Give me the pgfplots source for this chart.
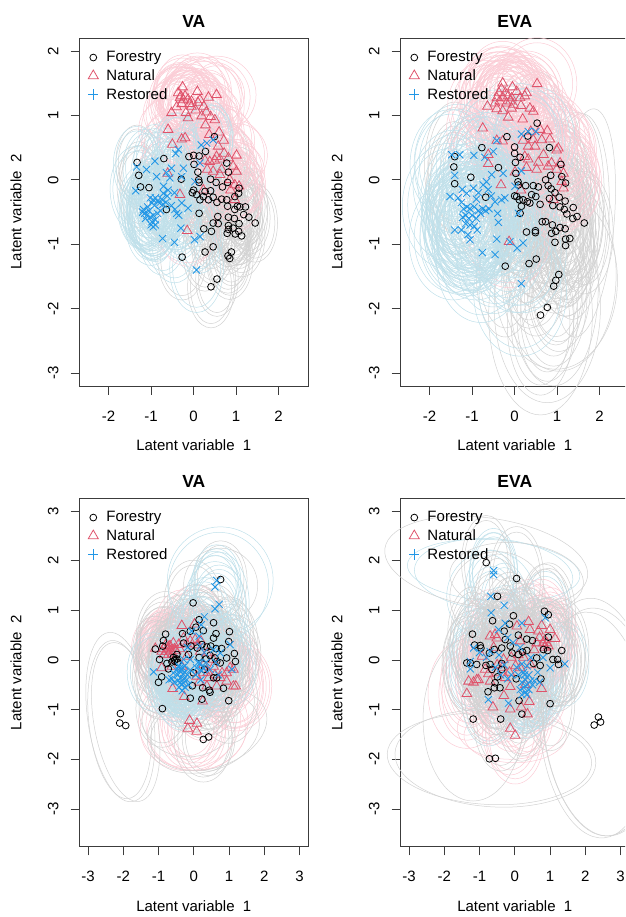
\documentclass[border=0pt]{standalone}
\usepackage{fontspec}
\setmainfont{Liberation Sans}
\usepackage{pgfplots}
\usepackage{pgfplotstable}
\pgfplotsset{compat=1.18}
\definecolor{cF}{HTML}{000000}
\definecolor{cN}{HTML}{DF536B}
\definecolor{cR}{HTML}{2297E6}
\definecolor{eF}{HTML}{D2D2D2}
\definecolor{eN}{HTML}{FBCDD6}
\definecolor{eR}{HTML}{C0E0EA}
\definecolor{boxc}{HTML}{3C3C3C}
% ---- panel 1 (VA, top)
\pgfplotstableread[row sep=\\]{x y s\\
-1.33 0.27 1\\-1.29 0.07 .9\\-1.25 -0.11 1.1\\-1.05 -0.12 .85\\-0.70 0.33 1\\-0.29 0.01 1.1\\-0.64 -0.46 .9\\-0.27 -1.20 1.15\\0.13 -0.52 1\\0.49 0.67 .9\\-0.11 0.36 1\\0 0.38 1.1\\0.13 0.37 .85\\0.28 0.44 1\\0.01 0.24 .95\\0.10 0.12 1.1\\0.12 0 .9\\0.13 -0.04 1\\0.40 0.01 1.05\\0.53 -0.04 .9\\0.68 -0.11 1\\0.78 0.26 1.1\\0.82 0.12 .85\\0.80 -0.04 1\\1.07 -0.13 1.1\\1.06 -0.21 .9\\0.97 -0.26 1\\0 -0.16 1.05\\-0.03 -0.20 .9\\0.07 -0.23 1\\0.15 -0.31 1.1\\0.27 -0.18 .85\\0.40 -0.17 1\\0.23 -0.26 .95\\0.35 -0.31 1.1\\0.46 -0.27 .9\\0.55 -0.35 1\\0.66 -0.30 1.1\\0.78 -0.31 .85\\0.80 -0.41 1\\0.97 -0.46 1.1\\1.03 -0.41 .9\\1.09 -0.42 1\\1.22 -0.42 1.05\\1.18 -0.54 .9\\1.30 -0.58 1\\1.45 -0.67 1.05\\0.57 -0.57 .85\\0.82 -0.58 1\\0.96 -0.60 1.1\\0.46 -0.67 .9\\0.58 -0.68 1\\1.07 -0.68 1.1\\0.24 -0.76 .85\\0.42 -0.80 1\\0.82 -0.71 1.1\\0.93 -0.75 .9\\0.82 -0.77 1\\0.79 -0.83 1.1\\0.98 -0.84 .85\\1.06 -0.80 1\\1.13 -0.87 1.1\\0.46 -1.04 1\\0.27 -1.12 1.05\\0.89 -1.12 .9\\0.81 -1.18 1\\0.85 -1.22 1.1\\0.55 -1.54 1\\0.41 -1.66 1.1\\}\PaF
\pgfplotstableread[row sep=\\]{x y s\\
-0.26 1.44 1\\-0.36 1.35 .9\\0.09 1.37 1.1\\0.54 1.32 1\\0.35 1.28 .85\\-0.32 1.27 1.1\\-0.24 1.24 .9\\-0.13 1.25 1\\-0.05 1.22 1.15\\0.15 1.24 .85\\-0.40 1.13 1\\-0.05 1.14 1.1\\0.24 1.14 .9\\-0.52 1.04 1\\-0.18 1.04 1.1\\-0.13 0.96 .85\\0.19 0.99 1\\0.40 0.98 1.1\\0.50 0.93 .9\\0.28 0.85 1\\-0.60 0.78 1.05\\0.60 0.74 .9\\0.37 0.70 1\\0.71 0.61 1.1\\-0.28 0.63 .85\\-0.20 0.65 1\\-0.50 0.55 1.1\\0.58 0.52 .9\\0.72 0.41 1\\1.01 0.38 1.1\\0.54 0.36 .85\\0.82 0.34 1\\0.27 0.30 1.1\\0.38 0.28 .9\\0.50 0.30 1\\0.62 0.32 1.1\\0.93 0.21 .85\\1.01 0.13 1\\0.32 0.16 1.1\\0.46 0.13 .9\\0.66 0.16 1\\-0.61 0.10 1.1\\0.62 0.08 .85\\0.85 0 1\\0.97 -0.08 1.1\\1.07 -0.10 .9\\0.87 -0.16 1\\0.23 -0.16 1.1\\-0.32 -0.23 .85\\0.97 -0.31 1\\-0.15 -0.79 1.1\\-0.30 1.30 1\\-0.20 1.30 .9\\-0.10 1.18 1.1\\0.05 1.08 1\\-0.28 1.18 .9\\0.10 1.20 1.05\\0.30 1.05 .95\\}\PaN
\pgfplotstableread[row sep=\\]{x y rx ry rot\\
0.54 1.32 .93 .60 0\\0.35 1.28 .98 .62 0\\0.15 1.24 .95 .66 0\\0.24 1.14 .95 .70 0\\0.09 1.37 .80 .60 0\\}\PaNb
\pgfplotstableread[row sep=\\]{x y s\\
-1.34 0.20 1\\-1.36 -0.17 1.1\\-0.91 0.29 .9\\-1.11 0.16 1\\-0.87 0.05 1.1\\-0.36 0.47 .9\\-0.42 0.41 1\\-0.64 0.11 1.1\\-0.52 0.18 .85\\-0.24 0.18 1\\-0.28 0.05 1.1\\0.03 -0.03 .9\\0.18 0.54 1\\0.31 0.57 1.1\\0.46 0.62 .85\\0.15 0.26 1\\-0.71 -0.10 1.1\\-0.56 0.03 .9\\-0.60 -0.16 1\\-0.71 -0.21 1.1\\-0.95 -0.31 .85\\-0.90 -0.28 1\\-0.98 -0.36 1.1\\-0.85 -0.33 .9\\-0.80 -0.36 1\\-0.92 -0.40 1.1\\-0.75 -0.30 .85\\-0.72 -0.38 1\\-0.65 -0.35 1.1\\-1.02 -0.28 .9\\-1.15 -0.52 1\\-1.18 -0.46 1.1\\-1.10 -0.55 .85\\-1.20 -0.50 1\\-1.05 -0.48 1.1\\-1.13 -0.60 .9\\-1.02 -0.58 1\\-0.95 -0.55 1.1\\-1.08 -0.42 .85\\-0.98 -0.65 1\\-0.90 -0.62 1.1\\-0.95 -0.73 .9\\-0.90 -0.70 1\\-1.00 -0.70 1.1\\-0.85 -0.52 .85\\-0.78 -0.48 1\\-0.13 -0.44 1.1\\-0.28 -0.36 .9\\-0.40 -0.52 1\\-0.44 -0.46 1.1\\-0.30 -0.75 .85\\-0.73 -0.91 1\\-0.45 -0.97 1.1\\0.02 -0.93 .9\\0.15 -0.88 1\\0.07 -1.40 1.15\\-0.35 -0.55 1\\-0.52 -0.40 .9\\-0.62 -0.25 1.1\\-0.45 -0.20 1\\}\PaR
% ---- panel 2 (EVA, top)
\pgfplotstableread[row sep=\\]{x y s\\
0.53 0.88 1\\0.31 0.68 .9\\-0.18 0.67 1.1\\-0.77 0.50 1\\0 0.51 .85\\0 0.41 1.1\\0.13 0.35 .9\\0.02 0.27 1\\-1.41 0.36 1.05\\-1.43 0.20 .9\\-1.41 -0.06 1\\-1.03 0.04 1.1\\-0.38 0.19 .85\\-0.68 -0.27 1\\0.82 0.50 1.1\\1.09 0.24 .9\\1.11 0.05 1\\0.85 0.07 1.1\\0.73 0 .85\\1.20 -0.05 1\\0.03 0.10 1.1\\0.08 -0.03 .9\\0.09 -0.08 1\\0.26 -0.09 1.1\\0.44 -0.09 .85\\0.56 -0.11 1\\0.79 -0.09 1.1\\0.86 -0.14 .9\\0.95 -0.20 1\\0 -0.25 1.1\\0.05 -0.26 .85\\0.11 -0.31 1\\0.20 -0.31 1.1\\0.16 -0.41 .9\\0.13 -0.52 1\\0.30 -0.34 1.1\\0.36 -0.36 .85\\0.40 -0.23 1\\0.50 -0.26 1.1\\0.60 -0.38 .9\\0.82 -0.29 1\\0.90 -0.40 1.1\\1.05 -0.27 .85\\1.19 -0.33 1\\1.07 -0.42 1.1\\1.17 -0.46 .9\\1.23 -0.53 1\\1.38 -0.43 1.05\\1.37 -0.60 .9\\1.47 -0.57 1\\1.64 -0.67 1\\0.65 -0.65 .85\\0.73 -0.65 1\\0.89 -0.70 1.1\\1.07 -0.74 .9\\1.19 -0.76 1\\0.97 -0.80 1.1\\0.87 -0.83 .85\\0.28 -0.81 1\\0.49 -0.79 1.1\\0.49 -0.82 .9\\0.95 -0.97 1\\1.20 -0.92 1.1\\1.30 -0.91 .85\\1.20 -1.02 1\\0.51 -1.23 1.1\\0.34 -1.30 .9\\-0.22 -1.34 1\\1.04 -1.47 1.1\\0.97 -1.56 .9\\0.92 -1.65 1.15\\0.77 -1.98 1.05\\0.61 -2.10 1.15\\}\PbF
\pgfplotstableread[row sep=\\]{x y rx ry rot\\
0.61 -2.10 1.22 1.55 0\\0.77 -1.98 1.25 1.48 0\\0.92 -1.65 1.05 1.55 0\\1.04 -1.47 1.35 1.50 0\\0.97 -1.56 1.45 1.38 0\\1.64 -0.67 .70 1.78 -5\\1.47 -0.57 .75 1.60 -3\\1.38 -0.43 .72 1.48 -3\\}\PbFb
\pgfplotstableread[row sep=\\]{x y s\\
-0.28 1.50 1\\0.53 1.49 1.1\\-0.05 1.44 .9\\-0.31 1.41 1\\-0.37 1.35 1.1\\0.05 1.37 .85\\0.28 1.35 1\\-0.42 1.27 1.1\\-0.27 1.27 .9\\-0.07 1.27 1\\0.13 1.27 1.1\\0.24 1.30 .85\\-0.46 1.19 1\\-0.35 1.22 1.1\\-0.19 1.19 .9\\-0.03 1.17 1\\-0.64 1.14 1.1\\-0.42 1.10 .85\\-0.28 1.07 1\\-0.07 1.11 1.1\\0.36 1.11 .9\\0.44 1.06 1\\-0.15 0.97 1.1\\0.19 0.94 .85\\-0.75 0.80 1\\0.60 0.78 1.1\\0.77 0.76 .9\\0.38 0.75 1\\0.83 0.63 1.1\\-0.42 0.61 .85\\-0.28 0.60 1\\0.20 0.61 1.1\\0.44 0.62 .9\\0.64 0.62 1\\0.32 0.52 1.1\\0.48 0.52 .85\\1.03 0.49 1\\0.99 0.46 1.1\\0.68 0.39 .9\\0.24 0.36 1\\-0.62 0.39 1.1\\0.32 0.32 .85\\0.56 0.27 1\\-0.62 0.25 1.1\\0.87 0.26 .9\\1.07 0.26 1\\0.28 0.19 1.1\\0.52 0.16 .85\\0.79 0.21 1\\0.99 0.16 1.1\\0.01 0.12 .9\\1.15 0.10 1\\1.11 -0.03 1.1\\-0.32 -0.08 .85\\1.15 -0.13 1\\0.15 -0.16 1.1\\0.91 -0.31 .9\\-0.13 -0.96 1.1\\-0.15 1.30 1\\-0.22 1.35 .9\\0.15 1.15 1.05\\-0.10 1.22 .95\\}\PbN
\pgfplotstableread[row sep=\\]{x y s\\
-1.48 0.39 1\\-1.29 0.39 1.1\\-0.96 0.38 .9\\-1.41 0.07 1\\-1.52 -0.26 1.15\\-1.33 -0.28 .85\\-1.23 -0.15 1\\-0.42 0.61 1.1\\-0.50 0.44 .9\\-0.70 0.35 1\\0.16 0.71 1.1\\0.32 0.75 .85\\0.50 0.75 1\\-0.54 0.08 1.1\\-0.27 0.10 .9\\0.16 0.14 1\\0.01 -0.10 1.1\\-0.66 -0.03 .85\\-0.74 -0.08 1\\-0.97 -0.13 1.1\\-1.13 -0.21 .9\\-0.31 -0.31 1\\-0.46 -0.34 1.1\\-0.23 -0.28 .85\\0.09 -0.52 1\\-0.40 -0.52 1.1\\-0.38 -0.66 .9\\-1.41 -0.78 1.1\\-1.25 -0.78 1\\-1.05 -0.93 .85\\-0.42 -0.92 1\\-0.76 -1.13 1.1\\-0.46 -1.16 .9\\0.06 -1.06 1\\0.20 -0.98 1.1\\-0.11 -0.96 .85\\0.16 -1.61 1.15\\-1.20 -0.45 1\\-1.12 -0.42 1.1\\-1.05 -0.45 .9\\-0.95 -0.42 1\\-0.85 -0.48 1.1\\-0.75 -0.45 .85\\-0.68 -0.48 1\\-0.60 -0.45 1.1\\-1.22 -0.58 .9\\-1.15 -0.55 1\\-1.08 -0.60 1.1\\-1.00 -0.55 .85\\-0.90 -0.60 1\\-1.15 -0.68 1.1\\-1.05 -0.70 .9\\-0.95 -0.72 1\\-0.88 -0.78 1.1\\-1.10 -0.85 .85\\-0.80 -0.52 1\\-0.55 -0.25 1.1\\-0.62 -0.15 .9\\-0.85 -0.20 1\\-0.90 -0.30 1.1\\-1.25 -0.35 .85\\}\PbR
% ---- panel 3 (VA, bottom)
\pgfplotstableread[row sep=\\]{x y s\\
0.76 1.62 1\\-0.02 1.15 1.1\\0.15 0.81 .9\\0.56 0.75 1\\0.06 0.66 1.1\\-0.10 0.58 .85\\0.27 0.59 1\\0.63 0.53 1.1\\1.01 0.57 .9\\-0.32 0.53 1\\-0.80 0.52 1.1\\0.56 0.44 .85\\-0.86 0.39 1\\0.99 0.37 1.1\\-0.29 0.34 .9\\-0.88 0.28 1\\-0.08 0.28 1.1\\0.10 0.24 .85\\0.23 0.31 1\\0.37 0.26 1.1\\0.48 0.28 .9\\0.63 0.23 1\\0.79 0.23 1.1\\-1.09 0.22 .85\\1.15 0.13 1\\-0.48 0.11 1.1\\-0.15 0.11 .9\\0.46 0.09 1\\0.60 0.04 1.1\\0.93 0.04 .85\\-0.97 0.01 1\\-0.76 -0.07 1.1\\-0.62 -0.04 .9\\-0.53 0.01 1\\-0.48 0.02 1.1\\-0.72 -0.18 .85\\0.65 -0.03 1\\0.75 -0.06 1.1\\1.18 -0.03 .9\\0.30 -0.19 1\\-0.01 -0.26 1.1\\0.56 -0.36 .85\\0.65 -0.36 1\\-0.91 -0.34 1.1\\-1.00 -0.45 .9\\-0.04 -0.52 1\\0.25 -0.56 1.1\\0.84 -0.57 .85\\0.44 -0.61 1\\0.46 -0.65 1.1\\-0.10 -0.77 .9\\0.23 -0.79 1\\0.99 -0.82 1.1\\-0.89 -0.98 1\\0.42 -1.55 1\\0.27 -1.60 1.1\\-0.55 -0.02 1\\-0.58 0.05 .9\\-0.45 -0.05 1.1\\0.15 0.05 1\\0.35 0.02 .9\\}\PcF
\pgfplotstableread[row sep=\\]{x y s\\
-2.08 -1.08 1\\-2.10 -1.27 1\\-1.93 -1.32 1\\}\PcFo
\pgfplotstableread[row sep=\\]{x y s\\
-0.34 0.69 1\\0.02 0.72 1.1\\-1.09 0.23 .9\\-0.86 0.22 1\\-0.76 0.21 1.1\\-0.67 0.28 .85\\-0.58 0.34 1\\-0.43 0.31 1.1\\-0.29 0.44 .9\\-0.10 0.38 1\\0.04 0.41 1.1\\-0.72 0.11 .85\\-0.91 0.17 1\\0.18 0.17 1.1\\0.37 0.14 .9\\-0.20 0.07 1\\0.56 -0.13 1.1\\1.03 -0.16 .85\\0.93 -0.26 1\\1.12 -0.19 1.1\\-0.62 -0.13 .9\\-0.91 -0.16 1\\0.75 -0.36 1.1\\0.42 -0.36 .85\\0.93 -0.43 1\\1.12 -0.53 1.15\\1.19 -0.53 1.15\\0.65 -0.53 1\\0.08 -0.33 1.1\\-0.60 -0.58 .9\\-0.27 -0.74 1\\0.25 -0.83 1.1\\-0.12 -1.22 1.1\\0.09 -1.28 1.1\\-0.17 -1.38 1.1\\0.08 -1.44 1.1\\-0.34 -0.13 1\\0.27 -0.26 .9\\0.55 0.01 1\\0.80 -0.26 1.1\\0.37 -0.53 .85\\-0.55 0.22 1\\-0.70 0.28 1.1\\-0.50 0.18 .9\\-0.80 0.30 1\\-0.78 0.17 1.05\\-0.65 0.18 .95\\-0.60 0.12 1\\-0.85 0.10 1.05\\-0.72 0.25 .9\\-0.40 0.22 1\\-0.20 0.32 1.1\\0.10 0.30 .95\\0.20 0.38 1\\0.28 -0.10 1.05\\0.40 -0.25 .9\\0.60 -0.30 1\\0.15 -0.45 1.05\\}\PcN
\pgfplotstableread[row sep=\\]{x y s\\
0.65 1.60 1\\0.60 1.47 1\\0.72 1.12 1.1\\0.60 1.03 1\\0.30 0.87 1.1\\0.21 0.71 .9\\-0.06 0.58 1\\0.15 0.48 1.1\\1.03 0.31 .85\\0.75 0.14 1\\0.56 0.21 1.1\\0.18 0.28 .9\\-1.14 -0.24 1.1\\1.08 -0.19 1\\0.46 -0.19 1.1\\-0.39 -0.16 .85\\-0.58 -0.26 1\\0.18 -0.06 1.1\\0.08 -0.16 .9\\0.27 -0.16 1\\-0.10 0.01 1.1\\-0.29 0.01 .85\\-0.35 -0.20 1\\-0.42 -0.12 1.1\\-0.30 -0.28 .9\\-0.45 -0.30 1\\-0.38 -0.36 1.1\\-0.25 -0.12 .85\\-0.50 -0.20 1\\-0.55 -0.45 1.1\\-0.35 -0.50 .9\\-0.30 -0.46 1\\-0.42 -0.55 1.1\\-0.25 -0.55 .85\\-0.20 -0.40 1\\-0.15 -0.50 1.1\\-0.62 -0.38 .9\\-0.70 -0.40 1\\-0.33 -0.62 1.1\\-0.10 -0.20 .85\\0.05 -0.30 1\\0.20 -0.40 1.1\\0.62 -0.05 .9\\0.70 -0.30 1\\0.30 0.15 1.1\\-0.18 0.25 .85\\-0.40 -0.22 1\\-0.32 -0.15 .95\\-0.25 -0.25 1.05\\-0.45 -0.42 .9\\-0.28 -0.38 1\\-0.18 -0.30 1.1\\-0.38 -0.45 .95\\0.12 -0.05 1\\0.22 -0.22 1.05\\0.35 -0.05 .9\\}\PcR
\pgfplotstableread[row sep=\\]{x y rx ry rot\\
-2.08 -1.15 .93 1.72 8\\-2.10 -1.20 .88 1.60 6\\-1.93 -1.25 .90 1.62 10\\0.42 -1.40 1.70 .78 18\\0.27 -1.45 1.62 .80 16\\-0.12 -1.15 1.35 .80 5\\0.76 1.50 1.05 .75 10\\}\PcFb
\pgfplotstableread[row sep=\\]{x y rx ry rot\\
-0.12 -1.22 1.45 .95 10\\0.09 -1.28 1.45 .95 10\\-0.17 -1.38 1.35 .85 5\\0.08 -1.44 1.40 .78 5\\1.12 -0.53 1.03 .85 0\\1.19 -0.53 1.02 .90 0\\}\PcNb
\pgfplotstableread[row sep=\\]{x y rx ry rot\\
0.75 1.60 1.50 1.08 -5\\0.70 1.47 1.42 1.10 -5\\0.72 1.12 .85 1.05 0\\0.60 1.03 .90 .95 0\\0.62 1.40 .75 .70 0\\}\PcRb
% ---- panel 4 (EVA, bottom)
\pgfplotstableread[row sep=\\]{x y s\\
-0.81 1.96 1\\0.05 1.64 1.1\\-0.49 1.28 .9\\0.84 0.98 1\\0.95 0.91 1.1\\-0.04 0.89 .85\\-0.63 0.79 1\\-0.15 0.72 1.1\\-0.30 0.58 .9\\-1.20 0.52 1\\0.10 0.50 1.1\\0.95 0.46 .85\\-0.27 0.41 1\\0.34 0.42 1.1\\0.50 0.39 .9\\-1.14 0.30 1\\-0.98 0.29 1.1\\-0.96 0.24 .85\\-0.37 0.24 1\\-0.13 0.28 1.1\\-0.58 0.21 .9\\-0.72 0.14 1\\1.33 0.19 1.1\\-0.08 0.14 .85\\0.10 0.11 1\\0.22 0.16 1.1\\0.34 0.19 .9\\0.81 0.21 1\\0.93 0.19 1.1\\0.62 0.04 .85\\1.08 0.01 1\\1.21 0.01 1.1\\1.24 -0.09 .9\\-1.36 -0.06 1\\-1.26 -0.06 1.1\\-1.08 -0.09 .85\\-0.82 -0.11 1\\-0.70 -0.09 1.1\\-0.65 -0.19 .9\\-0.37 -0.07 1\\-0.37 -0.19 1.1\\0.53 -0.07 .85\\0.72 -0.11 1\\-0.49 -0.34 1.1\\0.04 -0.38 .9\\0.74 -0.38 1\\-0.56 -0.46 1.1\\-0.58 -0.56 .85\\-0.42 -0.56 1\\-0.76 -0.64 1.1\\0.12 -0.82 .9\\1.00 -0.88 1\\-0.40 -1.19 1.1\\0.20 -1.09 1\\}\PdF
\pgfplotstableread[row sep=\\]{x y s\\
-1.18 -1.19 1\\2.37 -1.15 1\\2.43 -1.25 1\\2.25 -1.31 1\\-0.72 -1.99 1\\-0.55 -1.98 1\\}\PdFo
\pgfplotstableread[row sep=\\]{x y s\\
0.39 0.77 1\\0.76 0.69 1.1\\0.06 0.68 .9\\1.00 0.61 1\\0.43 0.61 1.1\\0.67 0.58 .85\\-0.56 0.51 1\\-0.70 0.48 1.1\\1.14 0.43 .9\\0.91 0.34 1\\-0.51 0.44 1.1\\0.15 0.38 .85\\0.62 0.34 1\\0.81 0.34 1.1\\-0.93 0.07 .9\\-0.32 0.01 1\\-0.84 -0.19 1.1\\-1.08 -0.40 .85\\-1.31 -0.43 1.1\\-1.17 -0.45 1\\-1.03 -0.40 .9\\-0.70 -0.43 1\\-0.27 -0.36 1.1\\-1.36 -0.68 1.1\\-0.13 -0.54 .85\\0.76 -0.58 1\\-0.31 -0.72 1.1\\-0.62 -0.95 .9\\-0.13 -0.99 1\\0.18 -0.95 1.1\\0.41 -0.84 .85\\0.36 -1.09 1\\-0.13 -1.38 1.1\\0.01 -1.52 1.15\\-0.51 -0.26 1\\0.15 -0.16 .9\\0.70 0.45 1\\0.85 0.40 1.1\\0.95 0.28 .85\\0.55 0.20 1\\0.10 0.10 1.1\\-0.10 0.05 .9\\0.30 -0.50 1\\-0.50 -0.10 1.1\\-0.35 -0.15 .95\\-0.15 -0.25 1.05\\0.02 -0.12 .9\\0.25 0.05 1\\0.45 -0.10 1.05\\-0.75 -0.28 .95\\-0.60 0.25 1\\0.85 0.25 .9\\}\PdN
\pgfplotstableread[row sep=\\]{x y s\\
-0.60 1.80 1\\-0.60 1.72 1\\-0.68 1.28 1.1\\-0.30 1.10 1\\-0.67 0.95 1.1\\-0.27 0.74 .9\\-0.46 0.61 1\\0.86 0.85 1.1\\0.20 0.74 .85\\-1.17 0.24 1\\-0.70 0.17 1.1\\-1.26 -0.03 .9\\-1.26 -0.18 1\\-0.75 -0.80 1.1\\-0.18 -0.87 .85\\1.42 -0.08 1\\1.00 -0.16 1.1\\0.34 -0.70 .9\\0.25 -0.55 1\\0.35 -0.50 1.1\\0.30 -0.40 .85\\0.20 -0.45 1\\0.40 -0.60 1.1\\0.15 -0.60 .9\\0.50 -0.50 1\\0.55 -0.42 1.1\\0.10 -0.30 .85\\0.40 -0.30 1\\0.30 -0.65 1.1\\0.20 -0.70 .9\\0.65 -0.25 1\\0.70 -0.45 1.1\\0.35 -0.12 .85\\0.20 -0.08 1\\-0.10 -0.30 1.1\\-0.20 -0.38 .9\\-0.30 -0.10 1\\-0.45 0.10 1.1\\-0.05 0.35 .85\\0.15 0.25 1\\0.80 0.05 1.1\\0.45 0.05 .9\\-0.20 0.45 1\\-0.40 -0.30 1.05\\-0.55 -0.15 .95\\-0.80 0.05 1\\-1.00 0.15 1.05\\0.05 -0.15 .9\\0.28 -0.30 1\\0.45 -0.42 1.05\\0.25 -0.25 .95\\}\PdR
\pgfplotstableread[row sep=\\]{x y rx ry rot\\
2.37 -1.15 1.60 2.40 5\\2.43 -1.25 1.62 2.30 5\\2.25 -1.31 1.55 2.28 5\\-0.72 -1.99 2.90 .92 -3\\-0.55 -1.98 2.85 .98 -3\\-0.81 1.96 2.90 .90 -8\\-1.18 -1.19 1.42 1.65 0\\0.05 1.64 1.90 .72 -5\\-0.49 1.28 1.35 .90 0\\}\PdFb
\pgfplotstableread[row sep=\\]{x y rx ry rot\\
-0.60 1.80 2.45 .62 -4\\-0.60 1.72 2.25 .72 -4\\-0.68 1.28 1.25 .92 0\\}\PdRb
\pgfplotstableread[row sep=\\]{x y rx ry rot\\
-1.36 -0.68 1.10 1.10 0\\-0.13 -1.38 1.50 .62 0\\0.01 -1.52 1.45 .55 0\\}\PdNb
% ---- ellipse marks
\def\erx{1}\def\ery{1}\def\erot{0}\def\erotb{90}\def\edx{0}\def\edy{0}
\pgfdeclareplotmark{ell}{%
  \pgfpathellipse{\pgfqpoint{\edx pt}{\edy pt}}{\pgfpointpolar{\erot}{\erx pt}}{\pgfpointpolar{\erotb}{\ery pt}}%
  \pgfusepathqstroke}
% table, colour, rx, ry, centre offset dx, dy (data units)
\newcommand\ells[6]{%
  \addplot[forget plot,scatter,only marks,mark=ell,scatter src=x,
    visualization depends on={\thisrow{s}\as\es},
    scatter/@pre marker code/.code={%
      \pgfmathsetmacro\erx{#3*\es*\xu}\pgfmathsetmacro\ery{#4*\es*\yu}%
      \pgfmathsetmacro\edx{#5*\xu}\pgfmathsetmacro\edy{#6*\yu}%
      \def\erot{0}\def\erotb{90}%
      \scope[draw=#2,line width=.5pt]},
    scatter/@post marker code/.code={\endscope}]
    table[x=x,y=y]{#1};}
\newcommand\bigells[2]{%
  \addplot[forget plot,scatter,only marks,mark=ell,scatter src=x,
    visualization depends on={\thisrow{rx}\as\erxv},
    visualization depends on={\thisrow{ry}\as\eryv},
    visualization depends on={\thisrow{rot}\as\erv},
    scatter/@pre marker code/.code={%
      \pgfmathsetmacro\erx{\erxv*\xu}\pgfmathsetmacro\ery{\eryv*\yu}%
      \pgfmathsetmacro\erot{\erv}\pgfmathsetmacro\erotb{\erv+90}%
      \def\edx{0}\def\edy{0}%
      \scope[draw=#2,line width=.5pt]},
    scatter/@post marker code/.code={\endscope}]
    table[x=x,y=y]{#1};}
\newcommand\ptsF[1]{\addplot[forget plot,only marks,mark=o,mark size=3.4pt,mark options={draw=black,line width=.8pt,fill=none}] table[x=x,y=y]{#1};}
\newcommand\ptsN[1]{\addplot[forget plot,only marks,mark=triangle,mark size=5.6pt,mark options={draw=cN,line width=.8pt,fill=none}] table[x=x,y=y]{#1};}
\newcommand\ptsR[1]{\addplot[forget plot,only marks,mark=x,mark size=5pt,mark options={draw=cR,line width=.85pt}] table[x=x,y=y]{#1};}
\newcommand\lege{%
  \addlegendimage{only marks,mark=o,mark size=3.4pt,mark options={draw=black,line width=.8pt}}
  \addlegendimage{only marks,mark=triangle,mark size=5.8pt,mark options={draw=cN,line width=.8pt}}
  \addlegendimage{only marks,mark=+,mark size=5.2pt,mark options={draw=cR,line width=.85pt}}
  \legend{Forestry,Natural,Restored}}
\pgfplotsset{panel/.style={
  scale only axis,anchor=south west,clip=true,
  axis line style={draw=boxc,line width=.9pt},
  tick align=outside,major tick length=8.7pt,
  every tick/.style={draw=boxc,line width=.8pt},
  xtick pos=bottom,ytick pos=left,
  tick label style={font=\fontsize{15}{15}\selectfont,text=black},
  xticklabel style={anchor=base,yshift=-26.5pt},
  yticklabel style={rotate=90,anchor=base,yshift=12.3pt},
  xlabel={Latent variable\ \ 1},ylabel={Latent variable\ \ 2},
  label style={font=\fontsize{15}{15}\selectfont},
  xlabel style={at={(axis description cs:.5,-.17)},anchor=center},
  ylabel style={at={(axis description cs:-.276,.5)},anchor=center},
  title style={at={(axis description cs:.5,1)},anchor=center,yshift=11pt,font=\bfseries\fontsize{17.5}{17.5}\selectfont},
  legend cell align=left,
  legend style={draw=none,fill=none,font=\fontsize{15}{15}\selectfont,row sep=2.2pt,inner sep=0pt,
     anchor=north west,at={(rel axis cs:0.0375,.968)},
     /tikz/every odd column/.append style={column sep=6pt}},
  },
  top/.style={width=229pt,height=347.7pt,xmin=-2.69,xmax=2.70,ymin=-3.20,ymax=2.197,
    xtick={-2,-1,0,1,2},xticklabels={-2,-1,0,1,2},ytick={-3,-2,-1,0,1,2},yticklabels={-3,-2,-1,0,1,2}},
  bot/.style={width=229pt,height=348.4pt,xmin=-3.245,xmax=3.245,ymin=-3.76,ymax=3.255,
    xtick={-3,-2,-1,0,1,2,3},xticklabels={-3,-2,-1,0,1,2,3},ytick={-3,-2,-1,0,1,2,3},yticklabels={-3,-2,-1,0,1,2,3}},
}
\begin{document}
\begin{tikzpicture}[x=1pt,y=1pt]
\useasboundingbox (0,0) rectangle (625,917);
\clip (0,0) rectangle (625,917);
\def\xu{42.5}\def\yu{64.4}
\begin{axis}[panel,top,at={(79.3pt,531pt)},title={VA}]
\ells{\PaF}{eF}{.50}{.58}{0}{0}
\ells{\PaF}{eF}{.44}{.52}{0}{0}
\ells{\PaN}{eN}{.60}{.50}{0}{0}
\ells{\PaN}{eN}{.66}{.45}{0}{0}
\bigells{\PaNb}{eN}
\ells{\PaR}{eR}{.55}{.60}{0}{.03}
\ells{\PaR}{eR}{.49}{.53}{0}{.03}
\ptsN{\PaN}\ptsF{\PaF}\ptsR{\PaR}
\lege
\end{axis}
\begin{axis}[panel,top,at={(400.3pt,531pt)},title={EVA}]
\ells{\PbF}{eF}{.68}{.95}{0}{-.15}
\ells{\PbF}{eF}{.60}{.84}{0}{-.12}
\bigells{\PbFb}{eF}
\ells{\PbN}{eN}{.85}{.65}{0}{0}
\ells{\PbN}{eN}{.76}{.58}{0}{0}
\ells{\PbR}{eR}{.95}{.85}{-.03}{-.15}
\ells{\PbR}{eR}{.84}{.76}{-.03}{-.13}
\ptsN{\PbN}\ptsF{\PbF}\ptsR{\PbR}
\lege
\end{axis}
\def\xu{35.28}\def\yu{49.67}
\begin{axis}[panel,bot,at={(79.3pt,70.3pt)},title={VA}]
\ells{\PcN}{eN}{.75}{.72}{0}{0}
\ells{\PcN}{eN}{.66}{.64}{0}{0}
\bigells{\PcNb}{eN}
\ells{\PcF}{eF}{.75}{.78}{0}{0}
\ells{\PcF}{eF}{.66}{.69}{0}{0}
\bigells{\PcFb}{eF}
\ells{\PcR}{eR}{.68}{.72}{0}{0}
\ells{\PcR}{eR}{.60}{.64}{0}{0}
\bigells{\PcRb}{eR}
\ptsN{\PcN}\ptsF{\PcF}\ptsF{\PcFo}\ptsR{\PcR}
\lege
\end{axis}
\begin{axis}[panel,bot,at={(400.3pt,70.3pt)},title={EVA}]
\ells{\PdN}{eN}{.72}{.85}{0}{0}
\ells{\PdN}{eN}{.64}{.76}{0}{0}
\bigells{\PdNb}{eN}
\ells{\PdR}{eR}{.68}{.85}{0}{0}
\ells{\PdR}{eR}{.60}{.76}{0}{0}
\bigells{\PdRb}{eR}
\ells{\PdF}{eF}{.70}{.95}{0}{0}
\ells{\PdF}{eF}{.62}{.85}{0}{0}
\bigells{\PdFb}{eF}
\ptsN{\PdN}\ptsF{\PdF}\ptsF{\PdFo}\ptsR{\PdR}
\lege
\end{axis}
\end{tikzpicture}
\end{document}
